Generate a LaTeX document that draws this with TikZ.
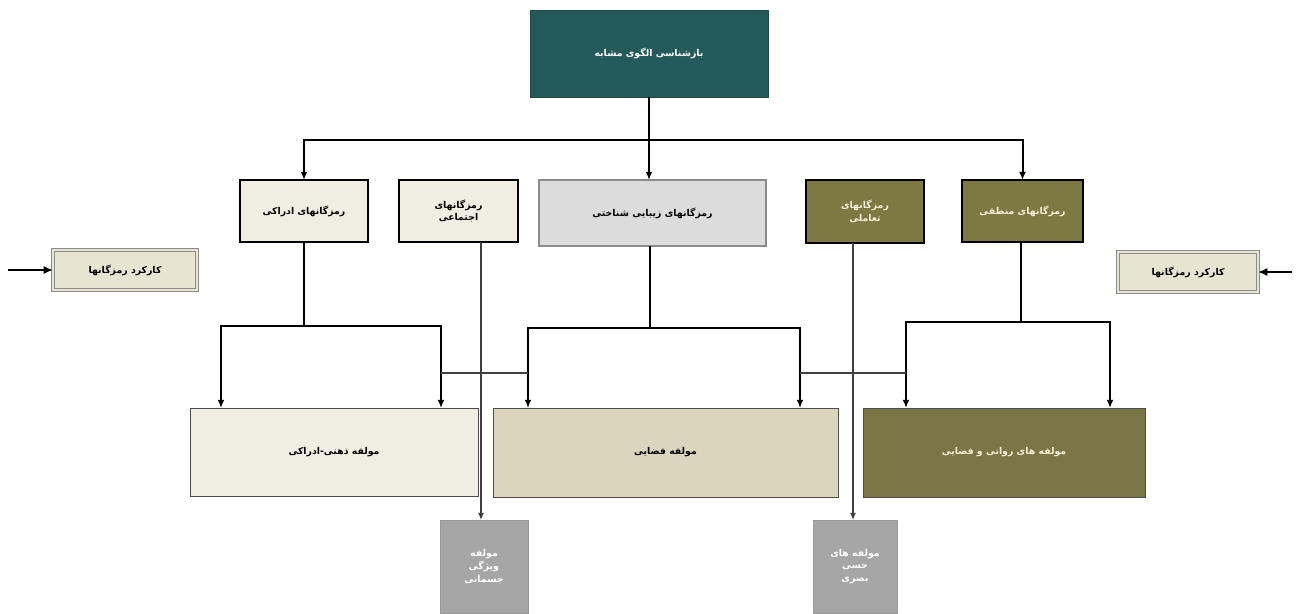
\documentclass[tikz,border=0pt]{standalone}
\usepackage{fontspec}
\TeXXeTstate=1
\newfontfamily\arabicfont[Script=Arabic]{DejaVu Sans}
\usetikzlibrary{arrows.meta}
\definecolor{teal1}{HTML}{245B5A}
\definecolor{beigeA}{HTML}{F0EEE2}
\definecolor{beigeB}{HTML}{DCD5BE}
\definecolor{beigeC}{HTML}{E8E4D2}
\definecolor{grayA}{HTML}{DCDCDC}
\definecolor{oliveA}{HTML}{7D7942}
\definecolor{oliveB}{HTML}{7A7645}
\definecolor{grayB}{HTML}{A6A6A6}
\definecolor{txtL}{HTML}{F4F1D8}
\tikzset{
  box/.style={draw, inner sep=0pt, outer sep=0pt, align=center,
    font=\arabicfont\bfseries\fontsize{8}{11}\selectfont},
  thickbox/.style={box, draw=black, line width=1.6pt},
  arr/.style={line width=1.7pt, -{Latex[length=7pt,width=6pt]}},
  bigarr/.style={line width=2.4pt, -{Latex[length=8pt,width=7pt]}},
  ln/.style={line width=1.7pt},
  thin/.style={line width=0.9pt, draw=black!75},
  thinarr/.style={thin, -{Latex[length=6pt,width=5pt]}}
}
\newcommand{\rtl}[1]{\beginR #1\endR}
\begin{document}
\begin{tikzpicture}[x=0.03cm,y=-0.03cm]
\useasboundingbox (0,0) rectangle (1296,613);
\fill[white] (0,0) rectangle (1296,613);
% top
\node[box, draw=teal1!80!black, fill=teal1, text=white, minimum width=7.14cm, minimum height=2.61cm] (top) at (649,53.5) {\rtl{بازشناسی الگوی مشابه}};
% second row
\node[thickbox, fill=beigeA, minimum width=3.84cm, minimum height=1.86cm] (adr) at (304,211) {\rtl{رمزگانهای ادراکی}};
\node[thickbox, fill=beigeA, minimum width=3.57cm, minimum height=1.86cm] (ejt) at (458.5,211) {\rtl{رمزگانهای}\\\rtl{اجتماعی}};
\node[box, draw=black!45, line width=1pt, fill=grayA, minimum width=6.81cm, minimum height=1.98cm] (zib) at (652.5,213) {\rtl{رمزگانهای زیبایی شناختی}};
\node[thickbox, fill=oliveA, text=txtL, minimum width=3.54cm, minimum height=1.89cm] (taa) at (865,211.5) {\rtl{رمزگانهای}\\\rtl{تعاملی}};
\node[thickbox, fill=oliveA, text=txtL, minimum width=3.63cm, minimum height=1.86cm] (man) at (1022.5,211) {\rtl{رمزگانهای منطقی}};
% side boxes
\node[box, draw=black!45, double=beigeC, double distance=1.2pt, line width=0.8pt, fill=beigeC, minimum width=4.32cm, minimum height=1.2cm] (kl) at (125,270) {\rtl{کارکرد رمزگانها}};
\node[box, draw=black!45, double=beigeC, double distance=1.2pt, line width=0.8pt, fill=beigeC, minimum width=4.2cm, minimum height=1.2cm] (kr) at (1188,272) {\rtl{کارکرد رمزگانها}};
% bottom boxes
\node[box, draw=black!70, line width=0.8pt, fill=beigeA, minimum width=8.64cm, minimum height=2.64cm] (zeh) at (334,452) {\rtl{مولفه ذهنی-ادراکی}};
\node[box, draw=black!70, line width=0.8pt, fill=beigeB, minimum width=10.35cm, minimum height=2.67cm] (faz) at (665.5,452.5) {\rtl{مولفه فضایی}};
\node[box, draw=black!70, line width=0.8pt, fill=oliveB, text=txtL, minimum width=8.46cm, minimum height=2.67cm] (rav) at (1004,452.5) {\rtl{مولفه های روانی و فضایی}};
\node[box, draw=black!40, line width=0.8pt, fill=grayB, text=white, minimum width=2.64cm, minimum height=2.79cm] (g1) at (484,566.5) {\rtl{مولفه}\\\rtl{ویژگی}\\\rtl{جسمانی}};
\node[box, draw=black!40, line width=0.8pt, fill=grayB, text=white, minimum width=2.52cm, minimum height=2.79cm] (g2) at (855,566.5) {\rtl{مولفه های}\\\rtl{حسی}\\\rtl{بصری}};
% coordinates
\coordinate (j0) at (649,140);
\coordinate (a1) at (304,326);
\coordinate (z1) at (650,328);
\coordinate (m1) at (1021,322);
\coordinate (zehL) at (221,408);
\coordinate (zehR) at (441,408);
\coordinate (fazL) at (528,408);
\coordinate (fazR) at (800,408);
\coordinate (ravL) at (906,408);
\coordinate (ravR) at (1110,408);
\coordinate (ejB) at (481,242);
\coordinate (taB) at (853,243);
\coordinate (ejE) at (481,520);
\coordinate (taE) at (853,520);
\coordinate (la) at (8,270);
\coordinate (ra) at (1292,272);
\coordinate (t1) at (441,373);
\coordinate (t2) at (528,373);
\coordinate (t3) at (800,373);
\coordinate (t4) at (906,373);
% top connectors
\draw[ln] (top.south) -- (j0);
\draw[arr] (j0) -| (adr.north);
\draw[arr] (j0) -- (j0 |- zib.north);
\draw[arr] (j0) -| (man.north);
% second-level connectors
\draw[ln] (adr.south) -- (a1);
\draw[arr] (a1) -| (zehL);
\draw[arr] (a1) -| (zehR);
\draw[ln] (zib.south -| z1) -- (z1);
\draw[arr] (z1) -| (fazL);
\draw[arr] (z1) -| (fazR);
\draw[ln] (man.south -| m1) -- (m1);
\draw[arr] (m1) -| (ravL);
\draw[arr] (m1) -| (ravR);
% thin lines
\draw[thinarr] (ejB) -- (ejE);
\draw[thinarr] (taB) -- (taE);
\draw[thin] (t1) -- (t2);
\draw[thin] (t3) -- (t4);
% side arrows
\draw[bigarr] (la) -- (kl.west);
\draw[bigarr] (ra) -- (kr.east);
\end{tikzpicture}
\end{document}
